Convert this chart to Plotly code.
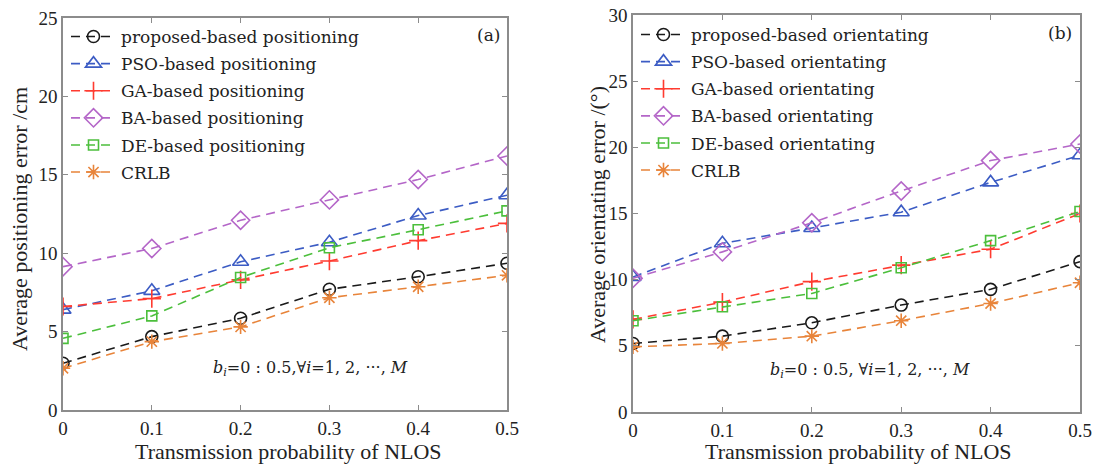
import plotly.graph_objects as go

x = [0, 0.1, 0.2, 0.3, 0.4, 0.5]

# Panel (a): positioning error /cm
pos_proposed = [2.98, 4.68, 5.85, 7.7, 8.5, 9.36]
pos_pso = [6.4, 7.6, 9.45, 10.7, 12.4, 13.7]
pos_ga = [6.6, 7.1, 8.3, 9.5, 10.8, 11.9]
pos_ba = [9.14, 10.3, 12.1, 13.4, 14.7, 16.2]
pos_de = [4.57, 6.0, 8.45, 10.35, 11.5, 12.7]
pos_crlb = [2.66, 4.36, 5.3, 7.16, 7.86, 8.59]

# Panel (b): orientating error /(°)
ori_proposed = [5.18, 5.73, 6.74, 8.08, 9.27, 11.36]
ori_pso = [10.2, 12.75, 13.9, 15.1, 17.35, 19.4]
ori_ga = [7.0, 8.3, 9.85, 11.1, 12.3, 15.0]
ori_ba = [10.1, 12.1, 14.3, 16.7, 19.0, 20.25]
ori_de = [6.9, 7.95, 8.96, 10.9, 12.95, 15.15]
ori_crlb = [4.92, 5.18, 5.73, 6.9, 8.2, 9.77]

x_ticks = [0, 0.1, 0.2, 0.3, 0.4, 0.5]
x_ticklabels = ["0", "0.1", "0.2", "0.3", "0.4", "0.5"]

names_a = ["proposed-based positioning", "PSO-based positioning", "GA-based positioning",
           "BA-based positioning", "DE-based positioning", "CRLB"]
names_b = ["proposed-based orientating", "PSO-based orientating", "GA-based orientating",
           "BA-based orientating", "DE-based orientating", "CRLB"]

colors = ["#1a1a1a", "#3c5cc4", "#ff3b30", "#b466c8", "#4cbf3c", "#e8843a"]
symbols = ["circle-open", "triangle-up-open", "cross-thin-open", "diamond-open",
           "square-open", "asterisk-open"]
sizes = [12, 14, 13, 14, 10, 12]

LEG_FONT = "DejaVu Serif"
AX_FONT = "Liberation Serif"

fig = go.Figure()

series_a = [pos_proposed, pos_pso, pos_ga, pos_ba, pos_de, pos_crlb]
series_b = [ori_proposed, ori_pso, ori_ga, ori_ba, ori_de, ori_crlb]

for i, (ys, nm) in enumerate(zip(series_a, names_a)):
    fig.add_trace(go.Scatter(
        x=x, y=ys, name=nm, mode="lines+markers",
        line=dict(color=colors[i], width=1.6, dash="9px,6px"),
        marker=dict(symbol=symbols[i], size=sizes[i], color=colors[i],
                    line=dict(color=colors[i], width=1.6)),
        xaxis="x", yaxis="y", legend="legend", legendgroup="a%d" % i))

for i, (ys, nm) in enumerate(zip(series_b, names_b)):
    fig.add_trace(go.Scatter(
        x=x, y=ys, name=nm, mode="lines+markers",
        line=dict(color=colors[i], width=1.6, dash="9px,6px"),
        marker=dict(symbol=symbols[i], size=sizes[i], color=colors[i],
                    line=dict(color=colors[i], width=1.6)),
        xaxis="x2", yaxis="y2", legend="legend2", legendgroup="b%d" % i))

axis_common = dict(showgrid=False, zeroline=False, showline=True, linecolor="#8c8c8c",
                   linewidth=1.5, mirror="ticks", ticks="inside", ticklen=5,
                   tickcolor="#8c8c8c", automargin=False,
                   tickfont=dict(family=AX_FONT, size=19, color="#222"))

fig.update_layout(
    width=1095, height=465,
    margin=dict(l=0, r=0, t=0, b=0, pad=0, autoexpand=False),
    paper_bgcolor="white", plot_bgcolor="white",
    xaxis=dict(domain=[63/1095, 507/1095], range=[0, 0.5], tickvals=x_ticks,
               ticktext=x_ticklabels, anchor="y", **axis_common),
    yaxis=dict(domain=[1-410/465, 1-18/465], range=[0, 25], tickvals=[0, 5, 10, 15, 20, 25],
               anchor="x", **axis_common),
    xaxis2=dict(domain=[633/1095, 1080/1095], range=[0, 0.5], tickvals=x_ticks,
                ticktext=x_ticklabels, anchor="y2", **axis_common),
    yaxis2=dict(domain=[1-412/465, 1-15/465], range=[0, 30], tickvals=[0, 5, 10, 15, 20, 25, 30],
                anchor="x2", **axis_common),
    legend=dict(x=66/1095, y=1-19/465, xref="paper", yref="paper", xanchor="left", yanchor="top",
                bgcolor="rgba(255,255,255,0)", font=dict(family=LEG_FONT, size=17, color="#222"),
                traceorder="grouped", tracegroupgap=2, itemwidth=45),
    legend2=dict(x=636/1095, y=1-17/465, xref="paper", yref="paper", xanchor="left", yanchor="top",
                 bgcolor="rgba(255,255,255,0)", font=dict(family=LEG_FONT, size=17, color="#222"),
                 traceorder="grouped", tracegroupgap=2, itemwidth=45),
)

ann_font_x = dict(family=AX_FONT, size=22, color="#222")
ann_font_y = dict(family=AX_FONT, size=22, color="#222")
annotations = [
    dict(text="(a)", x=488/1095, y=1-35/465, font=dict(family=LEG_FONT, size=17, color="#222")),
    dict(text="(b)", x=1060/1095, y=1-33/465, font=dict(family=LEG_FONT, size=17, color="#222")),
    dict(text="<i>b</i><sub><i>i</i></sub>=0 : 0.5,∀<i>i</i>=1, 2, ···, <i>M</i>",
         x=310/1095, y=1-368/465, font=dict(family=LEG_FONT, size=16, color="#222")),
    dict(text="<i>b</i><sub><i>i</i></sub>=0 : 0.5, ∀<i>i</i>=1, 2, ···, <i>M</i>",
         x=870/1095, y=1-370/465, font=dict(family=LEG_FONT, size=16, color="#222")),
    dict(text="Transmission probability of NLOS", x=288/1095, y=1-451/465, font=ann_font_x),
    dict(text="Transmission probability of NLOS", x=858/1095, y=1-451/465, font=ann_font_x),
    dict(text="Average positioning error /cm", x=19/1095, y=1-219/465, textangle=-90, font=ann_font_y),
    dict(text="Average orientating error /(°)", x=597/1095, y=1-215/465, textangle=-90, font=ann_font_y),
]
for a in annotations:
    fig.add_annotation(xref="paper", yref="paper", showarrow=False, xanchor="center",
                       yanchor="middle", **a)

fig.write_html("out.html")
